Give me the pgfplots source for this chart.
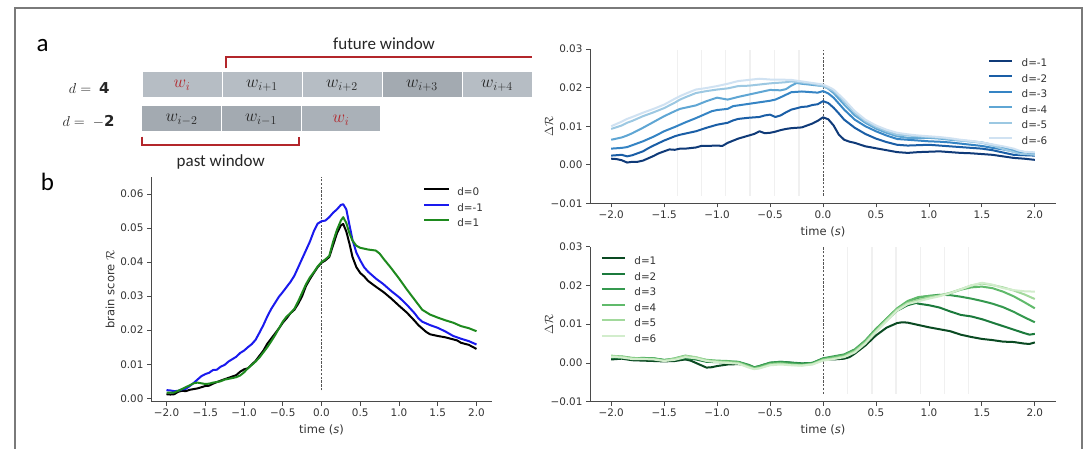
\documentclass[border=0pt]{standalone}
\usepackage{fontspec}
\setmainfont{DejaVu Sans}
\newfontfamily\calfont{Carlito}
\usepackage{pgfplots}
\pgfplotsset{compat=1.18}
\definecolor{spinec}{HTML}{4A4A4A}
\definecolor{txtc}{HTML}{333333}
\definecolor{faintc}{HTML}{F0F0F0}
\definecolor{dashc}{HTML}{555555}
\definecolor{framec}{HTML}{7A7A7A}
\definecolor{boxl}{HTML}{B6BDC4}
\definecolor{boxd}{HTML}{A3AAB1}
\definecolor{boxm}{HTML}{AAB1B8}
\definecolor{wred}{HTML}{B3262B}
\definecolor{cblue}{HTML}{1A1AEE}
\definecolor{cgreen}{HTML}{1E8A1E}
\definecolor{bA}{HTML}{0F3A78}
\definecolor{bB}{HTML}{1A5EA6}
\definecolor{bC}{HTML}{3584C4}
\definecolor{bD}{HTML}{5FA6D4}
\definecolor{bE}{HTML}{9CC8E2}
\definecolor{bF}{HTML}{D0E2F2}
\definecolor{gA}{HTML}{0A4A22}
\definecolor{gB}{HTML}{1B7A3C}
\definecolor{gC}{HTML}{35994F}
\definecolor{gD}{HTML}{60BA6B}
\definecolor{gE}{HTML}{A2D99C}
\definecolor{gF}{HTML}{D2EDCC}
\pgfplotsset{
  myax/.style={
    scale only axis,
    axis x line*=bottom, axis y line*=left,
    axis line style={draw=spinec, line width=0.8pt},
    every tick/.style={draw=spinec, line width=0.8pt},
    major tick length=4pt, tick align=outside,
    xmin=-2.2, xmax=2.2,
    xtick={-2,-1.5,-1,-0.5,0,0.5,1,1.5,2},
    xticklabels={−2.0,−1.5,−1.0,−0.5,0.0,0.5,1.0,1.5,2.0},
    scaled y ticks=false, scaled x ticks=false,
    ticklabel style={font=\fontsize{10.4}{12}\selectfont, text=txtc},
    label style={font=\fontsize{11.5}{13}\selectfont, text=txtc},
    xlabel={time (\textit{s})},
    xlabel style={at={(axis description cs:0.5,0)}, anchor=center, yshift=-28pt},
    every axis plot/.append style={line width=2pt, line join=round},
    legend cell align=left,
    legend style={draw=none, fill=none, inner sep=0pt, row sep=6pt,
      font=\fontsize{10.4}{12}\selectfont, text=txtc,
      nodes={inner sep=0pt, text height=7.5pt, text depth=2pt},
      /tikz/every odd column/.append style={column sep=8.5pt}},
    legend image code/.code={\draw[##1, line width=2pt] (0pt,3.6pt) -- (23pt,3.6pt);},
  },
  rightax/.style={myax, width=466pt, height=154.5pt, ymin=-0.01, ymax=0.03,
    ytick={-0.01,0,0.01,0.02,0.03},
    yticklabels={−0.01,0.00,0.01,0.02,0.03},
    ylabel={$\Delta\mathcal{R}$},
    ylabel style={at={(axis description cs:-0.088,0.5)}, anchor=center}},
  bimg/.style={legend image code/.code={\draw[##1, line width=2pt] (0pt,3.6pt) -- (25pt,3.6pt);}},
  faint/.style={faintc, line width=1.3pt, forget plot},
  zline/.style={dashc, line width=0.9pt, dash pattern=on 2.4pt off 1.4pt, forget plot},
}
\begin{document}
\begin{tikzpicture}[x=1pt,y=1pt]
\useasboundingbox (0,0) rectangle (1090,449);
\fill[white] (0,0) rectangle (1090,449);
% frame
\draw[framec, line width=2pt] (15,-10) -- (15,441) -- (1082,441) -- (1082,-10);
% panel a
\fill[boxl] (142.5,352.3) rectangle (221.5,377.3);
\fill[boxl] (222.5,352.3) rectangle (301.7,377.3);
\fill[boxl] (302.7,352.3) rectangle (381.7,377.3);
\fill[boxd] (382.7,352.3) rectangle (461.7,377.3);
\fill[boxl] (462.7,352.3) rectangle (532,377.3);
\fill[boxd] (142,318) rectangle (220.7,343);
\fill[boxd] (221.7,318) rectangle (300.7,343);
\fill[boxm] (301.7,318) rectangle (380,343);
\begin{scope}[every node/.style={font=\fontsize{18}{20}\selectfont, inner sep=0pt, text=black!85}]
\node at (182,363.5) {$\color{wred}w_i$};
\node at (262,363.5) {$w_{i+1}$};
\node at (342,363.5) {$w_{i+2}$};
\node at (422,363.5) {$w_{i+3}$};
\node at (497,363.5) {$w_{i+4}$};
\node at (181.5,329) {$w_{i-2}$};
\node at (261,329) {$w_{i-1}$};
\node at (341,329) {$\color{wred}w_i$};
\end{scope}
\begin{scope}[every node/.style={font=\fontsize{15}{18}\selectfont, inner sep=0pt, text=black!85}]
\node at (89.3,360.7) {$d=\;\mathbf{4}$};
\node at (88.6,327.3) {$d=\;\mathbf{-2}$};
\end{scope}
\draw[wred, line width=1.8pt] (226,380.7) -- (226,392.3) -- (532,392.3);
\draw[wred, line width=1.8pt] (141.7,312.3) -- (141.7,304) -- (299.3,304) -- (299.3,312.3);
\node[font=\calfont\fontsize{17}{19}\selectfont, text=black!85] at (384,405.7) {future window};
\node[font=\calfont\fontsize{17}{19}\selectfont, text=black!85] at (220.7,287.3) {past window};
\node[font=\calfont\fontsize{25}{28}\selectfont, anchor=base west, inner sep=0pt] at (36.5,397.3) {a};
\node[font=\calfont\fontsize{25}{28}\selectfont, anchor=base west, inner sep=0pt] at (40.7,258.3) {b};

% panel b
\begin{axis}[myax, bimg, at={(151pt,47.3pt)}, anchor=south west, width=341pt, height=224.7pt,
  ymin=-0.001, ymax=0.065,
  ytick={0,0.01,0.02,0.03,0.04,0.05,0.06},
  yticklabels={0.00,0.01,0.02,0.03,0.04,0.05,0.06},
  ylabel={brain score $\mathcal{R}$},
  ylabel style={at={(axis description cs:-0.12,0.5)}, anchor=center},
  legend style={at={(rel axis cs:0.798,0.951)}, anchor=north west},
  legend style={/tikz/every odd column/.append style={column sep=7pt}},
]
\addplot[zline] coordinates {(0,0.0023)(0,0.065)};
\addplot[black] coordinates {(-2.0,0.0012)(-1.95,0.0011)(-1.9,0.0012)(-1.85,0.0019)(-1.8,0.0022)(-1.75,0.0021)(-1.7,0.0025)(-1.6,0.0029)(-1.5,0.0036)(-1.45,0.0037)(-1.4,0.0043)(-1.3,0.0052)(-1.2,0.006)(-1.1,0.0068)(-1.05,0.0078)(-1.0,0.0085)(-0.95,0.0088)(-0.9,0.0099)(-0.85,0.011)(-0.8,0.0125)(-0.75,0.014)(-0.7,0.016)(-0.65,0.0175)(-0.6,0.019)(-0.55,0.0205)(-0.5,0.0222)(-0.45,0.0235)(-0.4,0.025)(-0.35,0.026)(-0.3,0.0278)(-0.25,0.03)(-0.2,0.033)(-0.15,0.035)(-0.1,0.0368)(-0.05,0.0385)(0.0,0.0398)(0.05,0.0405)(0.1,0.0415)(0.15,0.045)(0.2,0.0485)(0.25,0.0508)(0.28,0.0512)(0.32,0.049)(0.36,0.0455)(0.4,0.0415)(0.45,0.0385)(0.5,0.0368)(0.55,0.0358)(0.6,0.0345)(0.7,0.0328)(0.8,0.0312)(0.9,0.0293)(1.0,0.0272)(1.1,0.0252)(1.2,0.0228)(1.25,0.0215)(1.3,0.0205)(1.35,0.0195)(1.4,0.0188)(1.5,0.0183)(1.6,0.0179)(1.7,0.0173)(1.75,0.0170)(1.8,0.0163)(1.9,0.0157)(2.0,0.0145)};
\addlegendentry{d=0}
\addplot[cblue] coordinates {(-2.0,0.0024)(-1.95,0.0023)(-1.9,0.0021)(-1.85,0.0022)(-1.8,0.0026)(-1.75,0.0028)(-1.7,0.0036)(-1.65,0.0045)(-1.6,0.0055)(-1.55,0.0065)(-1.5,0.0071)(-1.45,0.0075)(-1.4,0.0083)(-1.35,0.0084)(-1.3,0.0093)(-1.25,0.0098)(-1.2,0.0108)(-1.1,0.0122)(-1.05,0.0133)(-1.0,0.014)(-0.95,0.015)(-0.9,0.0159)(-0.85,0.0172)(-0.8,0.0193)(-0.75,0.0215)(-0.7,0.024)(-0.65,0.0262)(-0.6,0.028)(-0.55,0.0298)(-0.5,0.0312)(-0.45,0.0327)(-0.4,0.0342)(-0.35,0.036)(-0.3,0.0385)(-0.25,0.041)(-0.2,0.0435)(-0.15,0.046)(-0.1,0.049)(-0.05,0.0513)(0.0,0.052)(0.05,0.0522)(0.1,0.0532)(0.15,0.0545)(0.2,0.0555)(0.25,0.0568)(0.28,0.057)(0.32,0.0555)(0.36,0.051)(0.4,0.0465)(0.45,0.0428)(0.5,0.0405)(0.55,0.0385)(0.6,0.0372)(0.7,0.0352)(0.8,0.0335)(0.9,0.0315)(1.0,0.0297)(1.1,0.0275)(1.2,0.025)(1.25,0.0235)(1.3,0.0225)(1.4,0.0215)(1.5,0.0207)(1.6,0.0196)(1.7,0.0183)(1.8,0.0175)(1.9,0.0168)(2.0,0.0158)};
\addlegendentry{d=-1}
\addplot[cgreen] coordinates {(-2.0,0.0017)(-1.9,0.0017)(-1.85,0.0022)(-1.8,0.0027)(-1.75,0.0033)(-1.7,0.0038)(-1.65,0.0044)(-1.6,0.0046)(-1.55,0.0044)(-1.5,0.0042)(-1.45,0.0043)(-1.4,0.0046)(-1.3,0.005)(-1.25,0.0055)(-1.2,0.0057)(-1.1,0.0062)(-1.05,0.0067)(-1.0,0.0076)(-0.95,0.0088)(-0.9,0.0098)(-0.85,0.0108)(-0.8,0.012)(-0.75,0.0135)(-0.7,0.015)(-0.65,0.0167)(-0.6,0.0185)(-0.55,0.0205)(-0.5,0.0225)(-0.45,0.024)(-0.4,0.025)(-0.35,0.0263)(-0.3,0.0285)(-0.25,0.031)(-0.2,0.0335)(-0.15,0.0355)(-0.1,0.037)(-0.05,0.0387)(0.0,0.040)(0.05,0.0408)(0.1,0.0418)(0.15,0.046)(0.2,0.0495)(0.25,0.0522)(0.28,0.0532)(0.32,0.0515)(0.36,0.0485)(0.4,0.0463)(0.45,0.0448)(0.5,0.0442)(0.6,0.0437)(0.7,0.0434)(0.75,0.0425)(0.8,0.041)(0.9,0.0382)(1.0,0.0352)(1.1,0.032)(1.2,0.029)(1.3,0.026)(1.4,0.0246)(1.5,0.0237)(1.6,0.0229)(1.7,0.0222)(1.8,0.0212)(1.9,0.0206)(2.0,0.0197)};
\addlegendentry{d=1}
\end{axis}

% top right
\begin{axis}[rightax, at={(590pt,245.5pt)}, anchor=south west,
  legend style={at={(rel axis cs:0.854,0.934)}, anchor=north west}]
\addplot[faint] coordinates {(-1.375,-0.008)(-1.375,0.0298)};
\addplot[faint] coordinates {(-1.148,-0.008)(-1.148,0.0298)};
\addplot[faint] coordinates {(-0.918,-0.008)(-0.918,0.0298)};
\addplot[faint] coordinates {(-0.688,-0.008)(-0.688,0.0298)};
\addplot[faint] coordinates {(-0.458,-0.008)(-0.458,0.0298)};
\addplot[faint] coordinates {(-0.228,-0.008)(-0.228,0.0298)};
\addplot[zline] coordinates {(0,-0.008)(0,0.0298)};
\addplot[bA] coordinates {(-2.0,0.0016)(-1.95,0.0015)(-1.9,0.0012)(-1.85,0.0006)(-1.8,0.0008)(-1.75,0.0008)(-1.7,0.0011)(-1.65,0.0017)(-1.6,0.0023)(-1.55,0.003)(-1.5,0.0035)(-1.45,0.004)(-1.4,0.0039)(-1.35,0.0042)(-1.3,0.0042)(-1.2,0.0045)(-1.15,0.0049)(-1.1,0.0049)(-1.0,0.005)(-0.95,0.0049)(-0.9,0.0057)(-0.8,0.0068)(-0.7,0.0076)(-0.65,0.008)(-0.6,0.0087)(-0.55,0.0082)(-0.5,0.0083)(-0.45,0.0086)(-0.4,0.009)(-0.35,0.0093)(-0.3,0.0095)(-0.25,0.0096)(-0.2,0.0097)(-0.15,0.0102)(-0.1,0.0107)(-0.05,0.0114)(0.0,0.0123)(0.05,0.0118)(0.1,0.0102)(0.15,0.0078)(0.2,0.0065)(0.25,0.006)(0.3,0.0057)(0.4,0.0048)(0.5,0.0043)(0.6,0.0038)(0.7,0.0033)(0.8,0.0031)(0.9,0.0033)(1.0,0.0034)(1.1,0.0035)(1.2,0.0033)(1.3,0.0031)(1.4,0.003)(1.5,0.0028)(1.6,0.0026)(1.7,0.0022)(1.8,0.0018)(1.9,0.0016)(2.0,0.0013)};
\addlegendentry{d=-1}
\addplot[bB] coordinates {(-2.0,0.0024)(-1.9,0.0026)(-1.85,0.0022)(-1.8,0.0025)(-1.75,0.003)(-1.7,0.0035)(-1.65,0.0043)(-1.6,0.005)(-1.5,0.0063)(-1.4,0.0074)(-1.35,0.0078)(-1.3,0.0081)(-1.2,0.0087)(-1.1,0.0096)(-1.0,0.0104)(-0.9,0.0109)(-0.85,0.0115)(-0.8,0.0119)(-0.7,0.0122)(-0.6,0.0124)(-0.55,0.0128)(-0.5,0.013)(-0.45,0.0124)(-0.4,0.0128)(-0.35,0.0136)(-0.3,0.0143)(-0.2,0.015)(-0.15,0.0151)(-0.1,0.0155)(-0.05,0.0157)(0.0,0.0165)(0.05,0.016)(0.1,0.0148)(0.15,0.0133)(0.2,0.0117)(0.3,0.0096)(0.4,0.008)(0.5,0.0068)(0.6,0.0059)(0.7,0.0052)(0.8,0.005)(0.9,0.0051)(1.0,0.0052)(1.1,0.005)(1.2,0.0048)(1.3,0.0046)(1.4,0.0044)(1.5,0.0042)(1.6,0.0038)(1.7,0.0032)(1.8,0.0026)(1.9,0.0025)(2.0,0.0024)};
\addlegendentry{d=-2}
\addplot[bC] coordinates {(-2.0,0.0042)(-1.9,0.0044)(-1.85,0.0046)(-1.8,0.0051)(-1.7,0.0061)(-1.6,0.0073)(-1.5,0.0087)(-1.4,0.0098)(-1.35,0.0104)(-1.3,0.011)(-1.2,0.0121)(-1.1,0.0133)(-1.05,0.0139)(-1.0,0.0142)(-0.9,0.0145)(-0.85,0.0152)(-0.8,0.0154)(-0.7,0.0158)(-0.6,0.0162)(-0.5,0.0166)(-0.45,0.0169)(-0.4,0.0175)(-0.3,0.0188)(-0.2,0.019)(-0.1,0.0188)(-0.05,0.0187)(0.0,0.0191)(0.05,0.0185)(0.1,0.0174)(0.2,0.0143)(0.3,0.0117)(0.4,0.010)(0.5,0.0087)(0.6,0.0076)(0.7,0.0067)(0.8,0.0065)(0.9,0.0063)(1.0,0.0061)(1.1,0.006)(1.2,0.0058)(1.3,0.0055)(1.4,0.0052)(1.5,0.0049)(1.6,0.0044)(1.7,0.004)(1.8,0.0035)(1.9,0.0031)(2.0,0.0029)};
\addlegendentry{d=-3}
\addplot[bD] coordinates {(-2.0,0.0065)(-1.9,0.0071)(-1.85,0.0076)(-1.8,0.0082)(-1.7,0.0096)(-1.6,0.0111)(-1.5,0.0126)(-1.4,0.0139)(-1.35,0.0145)(-1.3,0.0148)(-1.2,0.0154)(-1.1,0.0165)(-1.0,0.0174)(-0.9,0.0169)(-0.8,0.0176)(-0.7,0.0182)(-0.6,0.0188)(-0.5,0.0194)(-0.4,0.0193)(-0.35,0.0196)(-0.3,0.0205)(-0.25,0.0212)(-0.2,0.021)(-0.1,0.0207)(0.0,0.0204)(0.05,0.0197)(0.1,0.0186)(0.2,0.0156)(0.3,0.0128)(0.4,0.0109)(0.5,0.0094)(0.6,0.0083)(0.7,0.0074)(0.8,0.007)(0.9,0.0069)(1.0,0.007)(1.1,0.0068)(1.2,0.0065)(1.3,0.0063)(1.4,0.0061)(1.5,0.0058)(1.6,0.0052)(1.7,0.0045)(1.8,0.0038)(1.9,0.0033)(2.0,0.0031)};
\addlegendentry{d=-4}
\addplot[bE] coordinates {(-2.0,0.0093)(-1.9,0.0102)(-1.85,0.0109)(-1.8,0.0114)(-1.7,0.0126)(-1.6,0.0136)(-1.5,0.0147)(-1.4,0.0161)(-1.35,0.0169)(-1.3,0.0175)(-1.2,0.0186)(-1.1,0.0191)(-1.0,0.0195)(-0.9,0.0198)(-0.8,0.0204)(-0.7,0.0205)(-0.6,0.0208)(-0.5,0.0211)(-0.45,0.0212)(-0.35,0.0214)(-0.3,0.0216)(-0.2,0.0213)(-0.1,0.021)(0.0,0.0204)(0.05,0.0198)(0.1,0.0191)(0.2,0.0165)(0.3,0.0135)(0.4,0.0113)(0.5,0.0098)(0.6,0.0087)(0.7,0.0078)(0.8,0.0076)(0.9,0.0074)(1.0,0.0072)(1.1,0.007)(1.2,0.0067)(1.3,0.0063)(1.4,0.006)(1.5,0.0057)(1.6,0.005)(1.7,0.0041)(1.8,0.0033)(1.85,0.0029)(1.9,0.0028)(2.0,0.0026)};
\addlegendentry{d=-5}
\addplot[bF] coordinates {(-2.0,0.010)(-1.9,0.0112)(-1.85,0.0119)(-1.8,0.0124)(-1.7,0.0135)(-1.6,0.0145)(-1.5,0.0156)(-1.4,0.0171)(-1.35,0.0178)(-1.3,0.0184)(-1.2,0.0195)(-1.1,0.0199)(-1.0,0.0204)(-0.9,0.021)(-0.8,0.0217)(-0.7,0.022)(-0.6,0.0223)(-0.5,0.0221)(-0.45,0.0221)(-0.3,0.022)(-0.2,0.0216)(-0.1,0.0212)(0.0,0.0208)(0.05,0.0202)(0.1,0.0195)(0.2,0.0169)(0.3,0.0139)(0.4,0.0117)(0.5,0.0102)(0.6,0.0091)(0.7,0.0083)(0.8,0.0079)(0.9,0.0076)(1.0,0.0074)(1.1,0.0072)(1.2,0.0069)(1.3,0.0065)(1.4,0.0062)(1.5,0.0058)(1.6,0.0053)(1.7,0.0048)(1.8,0.0042)(1.85,0.0037)(1.9,0.0034)(2.0,0.0032)};
\addlegendentry{d=-6}
\end{axis}

% bottom right
\begin{axis}[rightax, at={(590pt,47.3pt)}, anchor=south west, height=155pt,
  legend style={at={(rel axis cs:0.023,0.934)}, anchor=north west}]
\addplot[faint] coordinates {(0.232,-0.008)(0.232,0.0298)};
\addplot[faint] coordinates {(0.462,-0.008)(0.462,0.0298)};
\addplot[faint] coordinates {(0.690,-0.008)(0.690,0.0298)};
\addplot[faint] coordinates {(0.918,-0.008)(0.918,0.0298)};
\addplot[faint] coordinates {(1.148,-0.008)(1.148,0.0298)};
\addplot[faint] coordinates {(1.376,-0.008)(1.376,0.0298)};
\addplot[zline] coordinates {(0,-0.008)(0,0.0298)};
\addplot[gA] coordinates {(-2.0,0.0009)(-1.9,0.0011)(-1.8,0.0007)(-1.7,0.0006)(-1.6,0.0005)(-1.5,0.0004)(-1.4,0.0005)(-1.3,0.0009)(-1.25,0.0006)(-1.2,0.0)(-1.1,-0.0012)(-1.05,-0.0011)(-1.0,-0.0008)(-0.9,-0.0004)(-0.8,-0.0003)(-0.7,-0.0006)(-0.65,-0.0012)(-0.6,-0.001)(-0.5,-0.0002)(-0.4,0.0002)(-0.3,0.0)(-0.2,-0.0003)(-0.1,-0.0002)(0.0,0.0009)(0.1,0.0009)(0.2,0.0011)(0.25,0.0015)(0.3,0.0024)(0.4,0.0045)(0.5,0.0071)(0.6,0.0091)(0.7,0.0103)(0.75,0.0105)(0.8,0.0104)(0.9,0.0098)(1.0,0.0092)(1.1,0.0087)(1.2,0.0082)(1.3,0.0073)(1.4,0.0067)(1.5,0.0062)(1.6,0.0059)(1.7,0.0055)(1.8,0.0054)(1.9,0.005)(1.95,0.0049)(2.0,0.0053)};
\addlegendentry{d=1}
\addplot[gB] coordinates {(-2.0,0.0014)(-1.9,0.0013)(-1.8,0.0011)(-1.7,0.0012)(-1.6,0.0011)(-1.5,0.0007)(-1.4,0.0009)(-1.3,0.0012)(-1.2,0.0009)(-1.1,0.0003)(-1.0,0.0002)(-0.9,0.0001)(-0.8,0.0002)(-0.7,-0.0006)(-0.65,-0.0012)(-0.6,-0.0008)(-0.5,0.0)(-0.4,0.0003)(-0.3,0.0001)(-0.2,-0.0001)(-0.1,0.0)(0.0,0.0011)(0.1,0.0015)(0.2,0.0019)(0.3,0.0032)(0.4,0.0055)(0.5,0.0085)(0.6,0.011)(0.7,0.0135)(0.8,0.0149)(0.88,0.0155)(0.9,0.0153)(1.0,0.0149)(1.1,0.0143)(1.2,0.0133)(1.3,0.0124)(1.4,0.012)(1.5,0.0113)(1.6,0.0104)(1.7,0.0095)(1.8,0.0086)(1.9,0.0077)(1.95,0.0073)(2.0,0.0075)};
\addlegendentry{d=2}
\addplot[gC] coordinates {(-2.0,0.0016)(-1.9,0.0015)(-1.8,0.0012)(-1.7,0.0013)(-1.6,0.0012)(-1.5,0.0008)(-1.4,0.001)(-1.3,0.0016)(-1.2,0.0012)(-1.1,0.0006)(-1.0,0.0004)(-0.9,0.0004)(-0.8,0.0003)(-0.7,-0.0005)(-0.65,-0.0011)(-0.6,-0.0008)(-0.5,0.0001)(-0.4,0.0003)(-0.3,0.0)(-0.2,-0.0002)(-0.1,0.0)(0.0,0.0012)(0.1,0.0017)(0.2,0.0022)(0.3,0.0035)(0.4,0.0058)(0.5,0.0088)(0.6,0.0114)(0.7,0.014)(0.8,0.0158)(0.9,0.0168)(1.0,0.0173)(1.1,0.0176)(1.2,0.0175)(1.3,0.0171)(1.4,0.0166)(1.5,0.016)(1.6,0.0153)(1.7,0.0144)(1.8,0.0132)(1.9,0.0118)(2.0,0.0105)};
\addlegendentry{d=3}
\addplot[gD] coordinates {(-2.0,0.0018)(-1.9,0.0017)(-1.8,0.0013)(-1.7,0.0012)(-1.6,0.0012)(-1.5,0.0007)(-1.4,0.0012)(-1.3,0.0019)(-1.2,0.0014)(-1.1,0.0008)(-1.0,0.0006)(-0.9,0.0005)(-0.8,0.0002)(-0.7,-0.0008)(-0.65,-0.0013)(-0.6,-0.001)(-0.5,-0.0002)(-0.4,0.0)(-0.3,-0.0003)(-0.2,-0.0005)(-0.1,-0.0002)(0.0,0.001)(0.1,0.0015)(0.2,0.002)(0.3,0.0033)(0.4,0.0057)(0.5,0.0087)(0.6,0.0114)(0.7,0.0141)(0.8,0.016)(0.9,0.017)(1.0,0.0173)(1.1,0.0174)(1.2,0.018)(1.3,0.0189)(1.4,0.0195)(1.5,0.0197)(1.6,0.0193)(1.7,0.0184)(1.8,0.0172)(1.9,0.0157)(2.0,0.0141)};
\addlegendentry{d=4}
\addplot[gE] coordinates {(-2.0,0.0019)(-1.9,0.0016)(-1.8,0.0012)(-1.7,0.0011)(-1.6,0.001)(-1.5,0.0006)(-1.4,0.0011)(-1.3,0.0018)(-1.2,0.0015)(-1.1,0.0007)(-1.0,0.0004)(-0.9,0.0002)(-0.8,0.0)(-0.7,-0.001)(-0.65,-0.0015)(-0.6,-0.0013)(-0.5,-0.0004)(-0.4,-0.0002)(-0.3,-0.0005)(-0.2,-0.0006)(-0.1,-0.0003)(0.0,0.0008)(0.1,0.0012)(0.2,0.0017)(0.3,0.003)(0.4,0.0053)(0.5,0.0083)(0.6,0.0111)(0.7,0.0138)(0.8,0.0155)(0.9,0.0163)(1.0,0.0169)(1.1,0.0174)(1.2,0.0181)(1.3,0.019)(1.4,0.02)(1.5,0.0205)(1.6,0.0201)(1.7,0.0195)(1.8,0.0187)(1.9,0.0177)(2.0,0.0165)};
\addlegendentry{d=5}
\addplot[gF] coordinates {(-2.0,0.0016)(-1.9,0.0014)(-1.8,0.001)(-1.7,0.001)(-1.6,0.0009)(-1.5,0.0005)(-1.4,0.0008)(-1.3,0.0015)(-1.2,0.0012)(-1.1,0.0005)(-1.0,0.0002)(-0.9,0.0)(-0.8,-0.0002)(-0.7,-0.0012)(-0.65,-0.0016)(-0.6,-0.0014)(-0.5,-0.0006)(-0.4,-0.0004)(-0.3,-0.0006)(-0.2,-0.0007)(-0.1,-0.0004)(0.0,0.0006)(0.1,0.001)(0.2,0.0015)(0.3,0.0027)(0.4,0.005)(0.5,0.008)(0.6,0.0108)(0.7,0.0135)(0.8,0.0152)(0.9,0.0159)(1.0,0.0166)(1.1,0.0172)(1.2,0.018)(1.3,0.019)(1.4,0.02)(1.5,0.0207)(1.6,0.0202)(1.7,0.0193)(1.8,0.0188)(1.9,0.0185)(2.0,0.0184)};
\addlegendentry{d=6}
\end{axis}
\end{tikzpicture}
\end{document}
